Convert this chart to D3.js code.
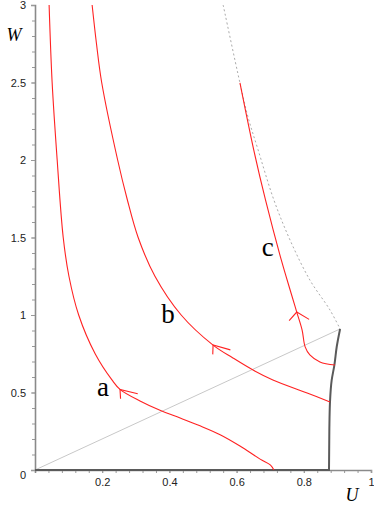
<!DOCTYPE html>
<html>
<head>
<meta charset="utf-8">
<script src="https://cdn.jsdelivr.net/npm/d3@7"></script>
<style>
  body { margin: 0; background: #fff; }
  svg { display: block; }
  .tick text { font-family: "Liberation Sans", Arial, sans-serif; font-size: 11px; fill: #222; }
</style>
</head>
<body>
<div id="chart"></div>
<script>
// trajectories in the (U, W) phase plane
const curveA = [[0.042, 3.0], [0.051, 2.5], [0.066, 2.0], [0.084, 1.5], [0.101, 1.25],
    [0.130, 1.0], [0.179, 0.75], [0.229, 0.581], [0.253, 0.52], [0.3125, 0.445],
    [0.372, 0.385], [0.432, 0.335], [0.491, 0.285], [0.551, 0.228], [0.610, 0.155],
    [0.670, 0.07], [0.701, 0.032], [0.711, 0]];
const curveB = [[0.170, 3.0], [0.183, 2.75], [0.1985, 2.5], [0.246, 2.0], [0.274, 1.75],
    [0.307, 1.5], [0.357, 1.25], [0.435, 1.0], [0.530, 0.806], [0.589, 0.723],
    [0.649, 0.645], [0.708, 0.581], [0.810, 0.497], [0.878, 0.439]];
const curveC = [[0.610, 2.497], [0.651, 2.065], [0.686, 1.742], [0.733, 1.355], [0.762, 1.142],
    [0.779, 1.019], [0.795, 0.903], [0.804, 0.794], [0.818, 0.742], [0.848, 0.697], [0.893, 0.677]];
const separatrix = [[0.560, 3.0], [0.610, 2.497], [0.634, 2.277], [0.664, 2.065], [0.711, 1.742],
    [0.759, 1.484], [0.818, 1.226], [0.878, 1.032], [0.908, 0.91]];
const boundary = [[0, 0], [0.875, 0], [0.876, 0.258], [0.878, 0.44], [0.883, 0.58],
    [0.891, 0.677], [0.898, 0.795], [0.908, 0.91]];
const diagonal = [[0, 0], [0.908, 0.91]];

const curveNames = ['a', 'b', 'c'];
const labelPos = [[0.202, 0.529], [0.396, 1.0], [0.693, 1.432]];
const arrowAt = [[0.253, 0.52], [0.530, 0.806], [0.779, 1.019]];

const xTicks = [0.2, 0.4, 0.6, 0.8, 1];
const yTicks = [0, 0.5, 1, 1.5, 2, 2.5, 3];

const [svgWidth, svgHeight] = [374, 517];

let x = d3.scaleLinear().domain([0, 1]).range([35, 371]);
let y = d3.scaleLinear().domain([0, 3]).range([470, 5]);

let svg = d3.select('#chart').append('svg')
    .attr('width', svgWidth)
    .attr('height', svgHeight);

let line = d3.line()
    .x(d => x(d[0]))
    .y(d => y(d[1]))
    .curve(d3.curveCatmullRom.alpha(0.5));

// axes, Maple style: crossing at the origin, small ticks
let xMinor = d3.range(0.04, 1.001, 0.04);
let yMinor = d3.range(0.1, 3.001, 0.1);

let xAxis = svg.append('g').attr('transform', 'translate(0,' + y(0) + ')');
xAxis.append('g').call(d3.axisBottom(x).tickValues(xMinor).tickSize(3).tickFormat(''))
    .call(g => g.select('.domain').remove());
xAxis.append('g').call(d3.axisBottom(x).tickValues(xTicks).tickSize(3).tickPadding(5)
    .tickFormat(d3.format('~g')));

let yAxis = svg.append('g').attr('transform', 'translate(' + x(0) + ',0)');
yAxis.append('g').call(d3.axisLeft(y).tickValues(yMinor).tickSize(3).tickFormat(''))
    .call(g => g.select('.domain').remove());
yAxis.append('g').call(d3.axisLeft(y).tickValues(yTicks).tickSize(4).tickPadding(5)
    .tickFormat(d3.format('~g')));
yAxis.selectAll('.tick').filter(d => d === 0).select('text').attr('dy', '0.8em');

svg.selectAll('.domain').attr('stroke', '#8a8a8a').attr('stroke-width', 1.6);
svg.selectAll('.tick line').attr('stroke', '#999');

// axis titles
svg.append('text').attr('x', 14).attr('y', 41)
    .attr('text-anchor', 'middle')
    .style('font-family', '"Liberation Serif", serif').style('font-style', 'italic')
    .style('font-size', '18px').text('W');
svg.append('text').attr('x', 352).attr('y', 501)
    .attr('text-anchor', 'middle')
    .style('font-family', '"Liberation Serif", serif').style('font-style', 'italic')
    .style('font-size', '18px').text('U');

// reference lines
svg.append('path').datum(diagonal)
    .attr('d', d3.line().x(d => x(d[0])).y(d => y(d[1])))
    .attr('fill', 'none').attr('stroke', '#c8c8c8').attr('stroke-width', 1);
svg.append('path').datum(separatrix)
    .attr('d', line)
    .attr('fill', 'none').attr('stroke', '#aaa').attr('stroke-width', 1)
    .attr('stroke-dasharray', '2,2.5');
svg.append('path').datum(boundary)
    .attr('d', d3.line().x(d => x(d[0])).y(d => y(d[1])).curve(d3.curveMonotoneY))
    .attr('fill', 'none').attr('stroke', '#5a5a5a').attr('stroke-width', 2);

// trajectories
let curves = [curveA, curveB, curveC];
svg.selectAll('.traj').data(curves).join('path')
    .attr('class', 'traj')
    .attr('d', line)
    .attr('fill', 'none').attr('stroke', '#f22').attr('stroke-width', 1.1);

// arrow heads, built in data space (pointing back toward the start of each list)
function arrowPath(pts, tip) {
    let i = d3.minIndex(pts, p => Math.hypot(p[0] - tip[0], p[1] - tip[1]));
    let a = pts[Math.max(i - 1, 0)], b = pts[Math.min(i + 1, pts.length - 1)];
    let ang = Math.atan2(b[1] - a[1], b[0] - a[0]); // backward direction
    let len = 0.06, half = Math.PI / 6;
    let w1 = [tip[0] + len * Math.cos(ang + half), tip[1] + len * Math.sin(ang + half)];
    let w2 = [tip[0] + len * Math.cos(ang - half), tip[1] + len * Math.sin(ang - half)];
    return d3.line().x(d => x(d[0])).y(d => y(d[1]))([w1, tip, w2]);
}
svg.selectAll('.arrow').data(arrowAt).join('path')
    .attr('class', 'arrow')
    .attr('d', (d, i) => arrowPath(curves[i], d))
    .attr('fill', 'none').attr('stroke', '#f22').attr('stroke-width', 1.1);

// curve labels
svg.selectAll('.lbl').data(labelPos).join('text')
    .attr('class', 'lbl')
    .attr('x', d => x(d[0])).attr('y', d => y(d[1]))
    .attr('dy', '0.3em')
    .attr('text-anchor', 'middle')
    .style('font-family', '"Liberation Serif", serif')
    .style('font-size', '27px')
    .text((d, i) => curveNames[i]);
</script>
</body>
</html>
